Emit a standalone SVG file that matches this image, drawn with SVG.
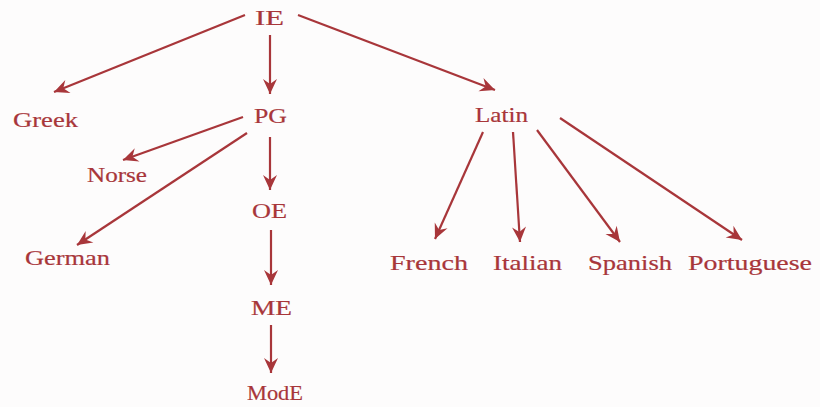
<svg xmlns="http://www.w3.org/2000/svg" width="820" height="407" viewBox="0 0 820 407">
<defs>
<style>
.t{font-family:"Liberation Serif","Times New Roman",serif;font-size:21px;fill:#a8363a;stroke:#a8363a;stroke-width:0.2;}
.c line{stroke:#a8363a;stroke-width:2.2;fill:none;marker-end:url(#ah);}
</style>
<marker id="ah" markerUnits="userSpaceOnUse" viewBox="-16 -8 18 16" refX="0" refY="0" markerWidth="18" markerHeight="16" orient="auto">
<path d="M0,0 L-15,-7 L-10,0 L-15,7 Z" fill="#a8363a"/>
</marker>
</defs>
<rect width="820" height="407" fill="#fdfcfc"/>
<g id="connectors" class="c">
<line x1="245" y1="15" x2="54" y2="92"/>
<line x1="270" y1="35" x2="270" y2="94"/>
<line x1="298" y1="15" x2="495" y2="90"/>
<line x1="243" y1="117" x2="123" y2="160"/>
<line x1="247" y1="133" x2="77" y2="245"/>
<line x1="270" y1="137" x2="270" y2="190"/>
<line x1="271" y1="230" x2="271" y2="285"/>
<line x1="271" y1="325" x2="271" y2="373"/>
<line x1="483" y1="132" x2="435" y2="239"/>
<line x1="513" y1="132" x2="520" y2="242"/>
<line x1="537" y1="130" x2="620" y2="242"/>
<line x1="560" y1="118" x2="742" y2="240"/>
</g>
<g id="IE"><text class="t" x="255" y="25" textLength="29" lengthAdjust="spacingAndGlyphs">IE</text></g>
<g id="Greek"><text class="t" x="13" y="127" textLength="65" lengthAdjust="spacingAndGlyphs">Greek</text></g>
<g id="PG"><text class="t" x="254" y="123" textLength="33" lengthAdjust="spacingAndGlyphs">PG</text></g>
<g id="Latin"><text class="t" x="475" y="122" textLength="53" lengthAdjust="spacingAndGlyphs">Latin</text></g>
<g id="Norse"><text class="t" x="87" y="182" textLength="60" lengthAdjust="spacingAndGlyphs">Norse</text></g>
<g id="OE"><text class="t" x="252" y="218" textLength="35" lengthAdjust="spacingAndGlyphs">OE</text></g>
<g id="German"><text class="t" x="25" y="265" textLength="85" lengthAdjust="spacingAndGlyphs">German</text></g>
<g id="ME"><text class="t" x="251" y="315" textLength="41" lengthAdjust="spacingAndGlyphs">ME</text></g>
<g id="ModE"><text class="t" x="247" y="400" font-size="23" textLength="56" lengthAdjust="spacingAndGlyphs">ModE</text></g>
<g id="French"><text class="t" x="390" y="270" textLength="78" lengthAdjust="spacingAndGlyphs">French</text></g>
<g id="Italian"><text class="t" x="493" y="270" textLength="69" lengthAdjust="spacingAndGlyphs">Italian</text></g>
<g id="Spanish"><text class="t" x="588" y="270" textLength="84" lengthAdjust="spacingAndGlyphs">Spanish</text></g>
<g id="Portuguese"><text class="t" x="688" y="270" textLength="124" lengthAdjust="spacingAndGlyphs">Portuguese</text></g>
</svg>
